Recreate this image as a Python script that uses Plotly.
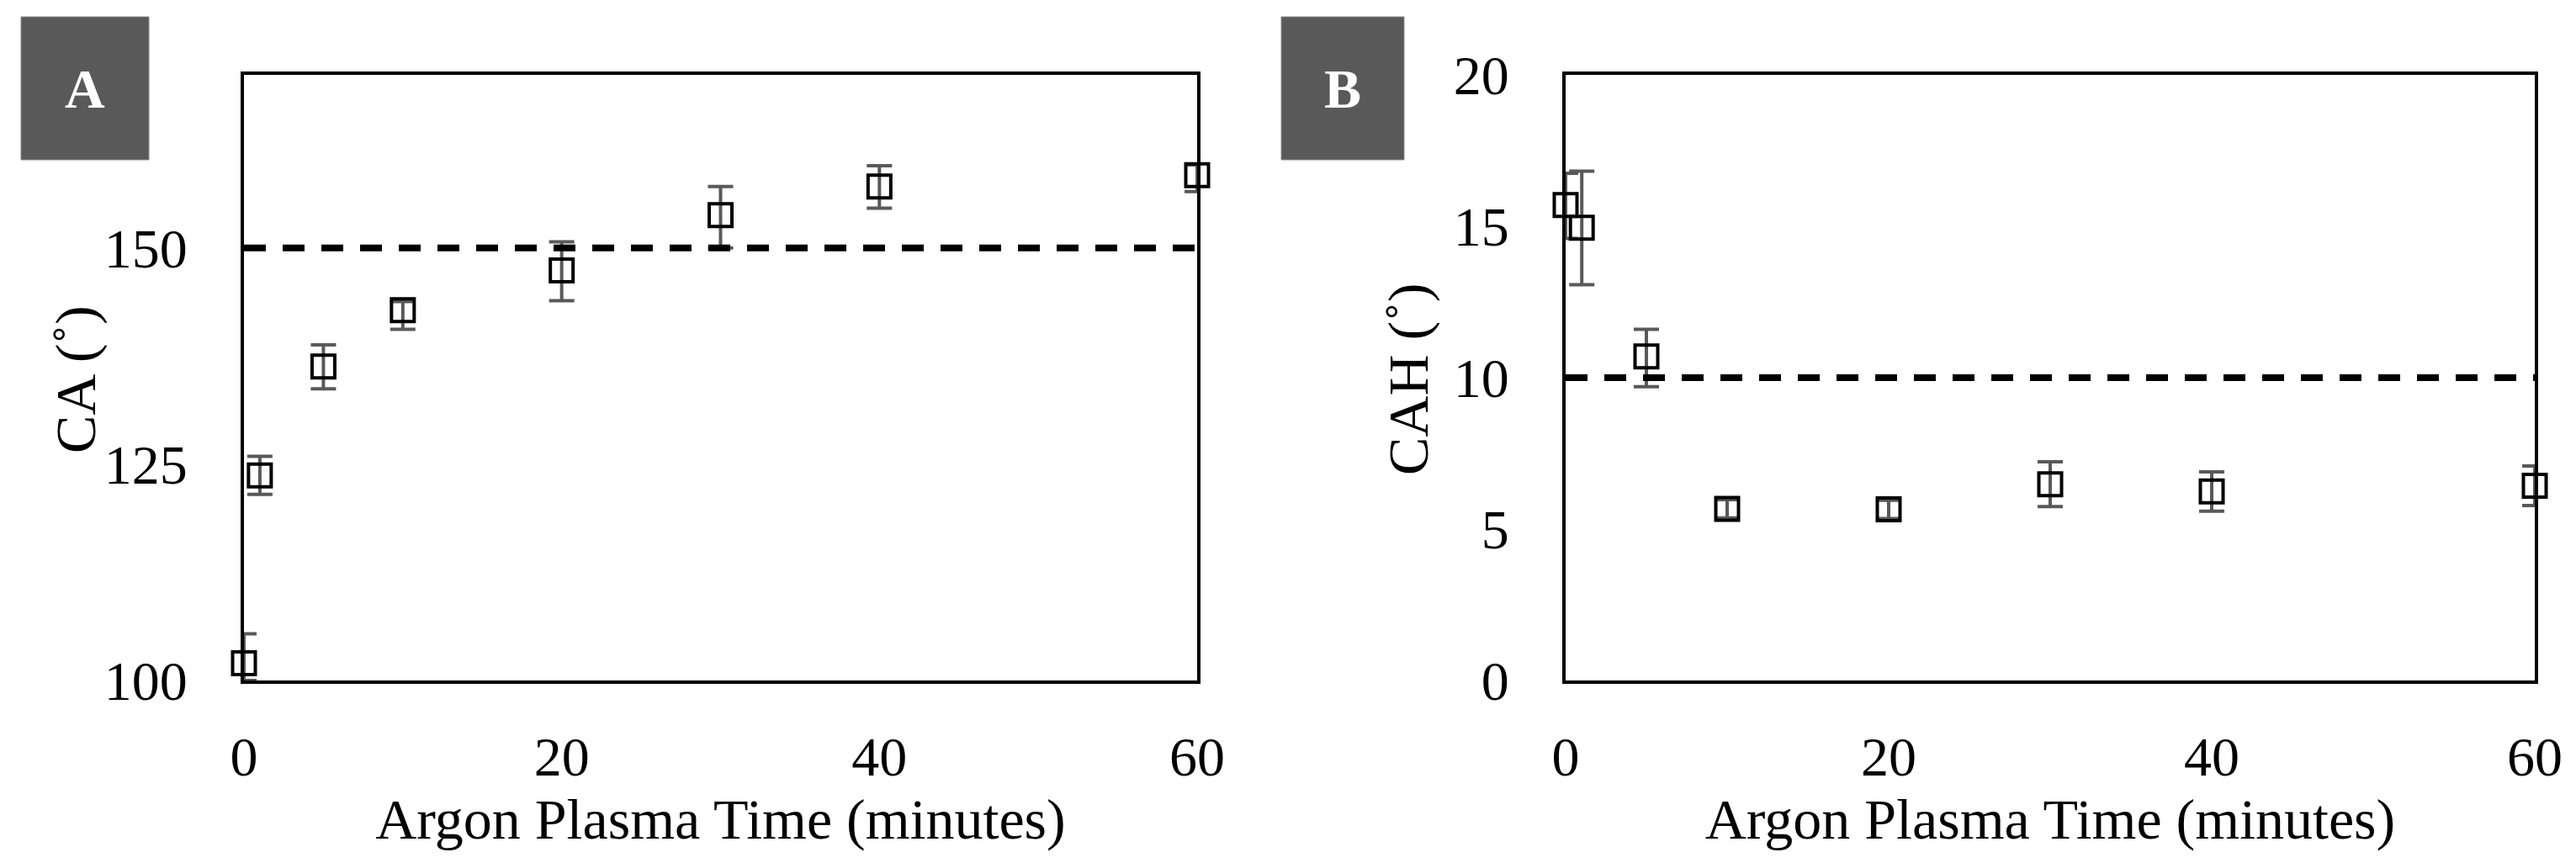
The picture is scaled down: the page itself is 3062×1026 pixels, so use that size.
import plotly.graph_objects as go

# ---- data ----
minutes = [0, 1, 5, 10, 20, 30, 40, 60]

ca_mean = [102.0, 123.7, 136.3, 142.8, 147.4, 153.8, 157.1, 158.4]
ca_err_plus = [3.4, 2.2, 2.5, 1.0, 3.3, 3.3, 2.4, 1.2]
ca_err_minus = [2.0, 2.2, 2.6, 2.2, 3.5, 3.8, 2.5, 1.9]

cah_mean = [15.7, 14.95, 10.7, 5.67, 5.65, 6.48, 6.24, 6.43]
cah_err_plus = [1.05, 1.87, 0.9, 0.3, 0.3, 0.74, 0.65, 0.65]
cah_err_minus = [1.1, 1.88, 1.0, 0.3, 0.3, 0.74, 0.65, 0.65]

ca_threshold = 150
cah_threshold = 10

x_ticks = [0, 20, 40, 60]
ca_ticks = [100, 125, 150]
cah_ticks = [0, 5, 10, 15, 20]

panel_labels = ["A", "B"]
x_title = "Argon Plasma Time (minutes)"
y_titles = ["CA (˚)", "CAH (˚)"]

# ---- layout geometry (pixels) ----
W, H = 3062, 1026
ML, MR, MT, MB = 282, 57, 81, 225
PW, PH = W - ML - MR, H - MT - MB


def px(x):
    return (x - ML) / PW


def py(y):
    return (H - MB - y) / PH


FONT = "Liberation Serif"
TICK_SIZE = 66
TITLE_SIZE = 68
ERR_COLOR = "#595959"

fig = go.Figure()


def add_panel(xa, ya, mean, ep, em, thr):
    fig.add_trace(go.Scatter(
        x=minutes, y=mean, mode="markers", xaxis=xa, yaxis=ya,
        marker=dict(symbol="square-open", size=27, color="black",
                    line=dict(width=4, color="black")),
        error_y=dict(type="data", symmetric=False, array=ep, arrayminus=em,
                     color=ERR_COLOR, thickness=4, width=15),
        cliponaxis=False, showlegend=False,
    ))
    fig.add_trace(go.Scatter(
        x=[x_ticks[0], x_ticks[-1]], y=[thr, thr], mode="lines",
        xaxis=xa, yaxis=ya,
        line=dict(color="black", width=8, dash="26px,20px"),
        showlegend=False, hoverinfo="skip",
    ))


add_panel("x", "y", ca_mean, ca_err_plus, ca_err_minus, ca_threshold)
add_panel("x2", "y2", cah_mean, cah_err_plus, cah_err_minus, cah_threshold)

axis_common = dict(
    showline=True, mirror=True, linecolor="black", linewidth=4,
    showgrid=False, zeroline=False,
    ticks="outside", tickcolor="rgba(0,0,0,0)",
    tickfont=dict(family=FONT, size=TICK_SIZE, color="black"),
)

xA0, xA1 = px(282), px(1415)
xB0, xB1 = px(1853), px(3005)

xtitle = dict(text=x_title, font=dict(family=FONT, size=TITLE_SIZE), standoff=6)

fig.update_layout(
    width=W, height=H,
    margin=dict(l=ML, r=MR, t=MT, b=MB),
    paper_bgcolor="white", plot_bgcolor="white",
    font=dict(family=FONT, color="black"),
    xaxis=dict(domain=[xA0, xA1], range=[0, 60], tickvals=x_ticks, ticklen=30,
               title=xtitle, anchor="y", **axis_common),
    yaxis=dict(domain=[0, 1], range=[100, 170], tickvals=ca_ticks, ticklen=50,
               anchor="x", **axis_common),
    xaxis2=dict(domain=[xB0, xB1], range=[0, 60], tickvals=x_ticks, ticklen=30,
                title=xtitle, anchor="y2", **axis_common),
    yaxis2=dict(domain=[0, 1], range=[0, 20], tickvals=cah_ticks, ticklen=50,
                anchor="x2", **axis_common),
)

# y-axis titles
for text, cx in zip(y_titles, [82, 1666]):
    fig.add_annotation(xref="paper", yref="paper", x=px(cx), y=py(443),
                       text=text, textangle=-90, showarrow=False,
                       xanchor="center", yanchor="middle",
                       font=dict(family=FONT, size=TITLE_SIZE, color="black"))

# panel label boxes
boxes = [(17, 169), (1515, 1661)]
for label, (bx0, bx1) in zip(panel_labels, boxes):
    fig.add_shape(type="rect", xref="paper", yref="paper",
                  x0=px(bx0), x1=px(bx1), y0=py(182), y1=py(12),
                  fillcolor="#595959", line=dict(color="#8a8a8a", width=1),
                  layer="above")
    fig.add_annotation(xref="paper", yref="paper",
                       x=px((bx0 + bx1) / 2), y=py(97),
                       text=f"<b>{label}</b>", showarrow=False,
                       xanchor="center", yanchor="middle",
                       font=dict(family=FONT, size=66, color="white"))

fig.write_html("out.html")
